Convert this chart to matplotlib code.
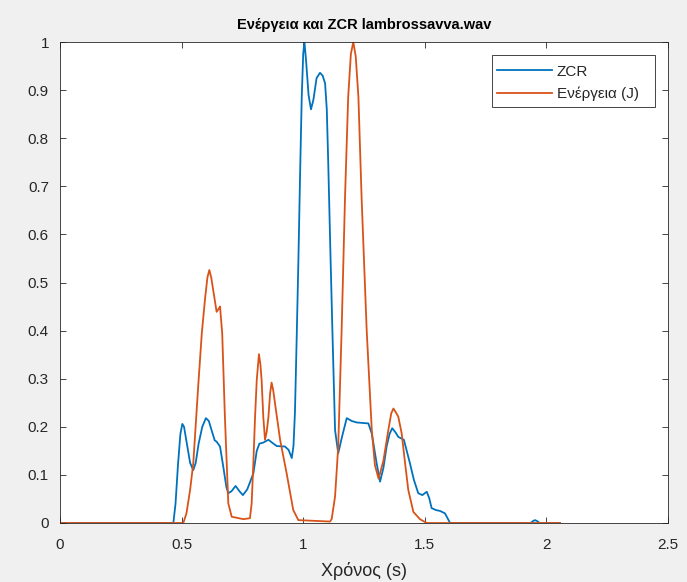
import matplotlib
matplotlib.use("Agg")
import matplotlib.pyplot as plt
from matplotlib.patches import Rectangle

plt.rcParams['font.family'] = ['Liberation Sans', 'DejaVu Sans']

title = "Ενέργεια και ZCR lambrossavva.wav"
xlabel = "Χρόνος (s)"
labels = ["ZCR", "Ενέργεια (J)"]
xticks = [0, 0.5, 1, 1.5, 2, 2.5]
xticklabels = ["0", "0.5", "1", "1.5", "2", "2.5"]
yticks = [0, 0.1, 0.2, 0.3, 0.4, 0.5, 0.6, 0.7, 0.8, 0.9, 1.0]
yticklabels = ["0", "0.1", "0.2", "0.3", "0.4", "0.5", "0.6", "0.7", "0.8", "0.9", "1"]

zcr_t = [0, 0.466, 0.475, 0.485, 0.495, 0.503, 0.510, 0.520, 0.535, 0.548, 0.558,
         0.570, 0.585, 0.600, 0.612, 0.625, 0.636, 0.644, 0.658, 0.672, 0.684, 0.692,
         0.705, 0.722, 0.738, 0.752, 0.770, 0.795, 0.809, 0.820, 0.835, 0.857, 0.875,
         0.891, 0.925, 0.940, 0.953, 0.960, 0.966, 0.973, 0.980, 0.987, 0.994, 1.000,
         1.005, 1.012, 1.022, 1.032, 1.042, 1.055, 1.069, 1.080, 1.090, 1.097, 1.103,
         1.112, 1.120, 1.131, 1.144, 1.160, 1.179, 1.200, 1.220, 1.245, 1.268, 1.282,
         1.302, 1.316, 1.330, 1.343, 1.355, 1.366, 1.380, 1.391, 1.414, 1.439, 1.455,
         1.473, 1.490, 1.508, 1.518, 1.528, 1.545, 1.563, 1.583, 1.604, 1.935, 1.945,
         1.953, 1.962, 1.972, 2.056]
zcr_v = [0, 0, 0.04, 0.12, 0.185, 0.206, 0.200, 0.170, 0.125, 0.110, 0.125,
         0.165, 0.200, 0.218, 0.212, 0.190, 0.172, 0.169, 0.159, 0.115, 0.075, 0.062,
         0.066, 0.077, 0.066, 0.058, 0.070, 0.103, 0.150, 0.165, 0.167, 0.173, 0.166,
         0.160, 0.159, 0.152, 0.135, 0.160, 0.229, 0.380, 0.540, 0.720, 0.886, 0.975,
         1.0, 0.960, 0.890, 0.860, 0.880, 0.925, 0.936, 0.930, 0.914, 0.860, 0.748,
         0.560, 0.401, 0.193, 0.145, 0.180, 0.218, 0.212, 0.209, 0.208, 0.207, 0.186,
         0.124, 0.086, 0.115, 0.159, 0.185, 0.197, 0.188, 0.179, 0.173, 0.124, 0.090,
         0.062, 0.058, 0.065, 0.052, 0.031, 0.027, 0.025, 0.020, 0.0, 0.0, 0.004,
         0.006, 0.004, 0.0, 0.0]

en_t = [0, 0.507, 0.520, 0.535, 0.548, 0.569, 0.583, 0.596, 0.606, 0.614, 0.622,
        0.630, 0.644, 0.652, 0.658, 0.667, 0.678, 0.692, 0.706, 0.754, 0.781, 0.788,
        0.795, 0.802, 0.809, 0.818, 0.824, 0.829, 0.836, 0.843, 0.850, 0.857, 0.864,
        0.870, 0.877, 0.884, 0.905, 0.932, 0.959, 0.980, 1.110, 1.117, 1.131, 1.144,
        1.158, 1.172, 1.185, 1.196, 1.206, 1.216, 1.227, 1.240, 1.261, 1.282, 1.295,
        1.310, 1.330, 1.350, 1.362, 1.371, 1.381, 1.391, 1.405, 1.419, 1.432, 1.453,
        1.480, 1.508, 2.056]
en_v = [0, 0, 0.020, 0.069, 0.124, 0.290, 0.394, 0.464, 0.510, 0.526, 0.510,
        0.484, 0.439, 0.445, 0.450, 0.394, 0.221, 0.041, 0.013, 0.008, 0.010, 0.040,
        0.124, 0.220, 0.297, 0.351, 0.330, 0.297, 0.220, 0.173, 0.190, 0.220, 0.270,
        0.292, 0.275, 0.249, 0.173, 0.103, 0.027, 0.006, 0.003, 0.008, 0.055, 0.159,
        0.401, 0.678, 0.886, 0.975, 1.0, 0.970, 0.886, 0.678, 0.401, 0.193, 0.120,
        0.092, 0.130, 0.193, 0.228, 0.238, 0.230, 0.221, 0.186, 0.124, 0.069, 0.023,
        0.008, 0.0, 0.0]

W, H = 687, 582
AX_L, AX_R, AX_T, AX_B = 60, 668, 42, 523

fig = plt.figure(figsize=(W / 100, H / 100), dpi=100, facecolor='#f0f0f0')
ax = fig.add_axes([AX_L / W, 1 - AX_B / H, (AX_R - AX_L) / W, (AX_B - AX_T) / H])
ax.set_facecolor('white')

ax.plot(zcr_t, zcr_v, color='#0072BD', lw=1.3, label=labels[0])
ax.plot(en_t, en_v, color='#D95319', lw=1.3, label=labels[1])

ax.set_xlim(0, 2.5)
ax.set_ylim(0, 1)
ax.set_xticks(xticks)
ax.set_xticklabels(xticklabels)
ax.set_yticks(yticks)
ax.set_yticklabels(yticklabels)
ax.tick_params(direction='in', length=4, width=0.6, colors='#262626',
               labelsize=11, top=True, right=True)
ax.tick_params(axis='x', pad=11)
ax.tick_params(axis='y', pad=8)
for s in ax.spines.values():
    s.set_color('#262626')
    s.set_linewidth(0.6)

ax.set_title(title, fontsize=10.5, fontweight='bold', color='#000000', pad=9)
ax.set_xlabel(xlabel, fontsize=13, color='#262626', labelpad=7)


def ax_xy(px, py):
    return ((px - AX_L) / (AX_R - AX_L), (AX_B - py) / (AX_B - AX_T))


# legend frame (MATLAB style box)
lx0, ly0 = ax_xy(492, 107)
lx1, ly1 = ax_xy(655, 55)
ax.add_patch(Rectangle((lx0, ly0), lx1 - lx0, ly1 - ly0, transform=ax.transAxes,
                       facecolor='white', edgecolor='#262626', lw=0.6, zorder=4))

leg = ax.legend(loc='upper left', bbox_to_anchor=ax_xy(492, 60),
                borderaxespad=0, fontsize=11, frameon=False,
                handlelength=3.6, handletextpad=0.35,
                labelspacing=0.55, borderpad=0.3)
leg.set_zorder(5)
for t in leg.get_texts():
    t.set_color('#262626')

fig.savefig('out.png', dpi=100, facecolor=fig.get_facecolor())
